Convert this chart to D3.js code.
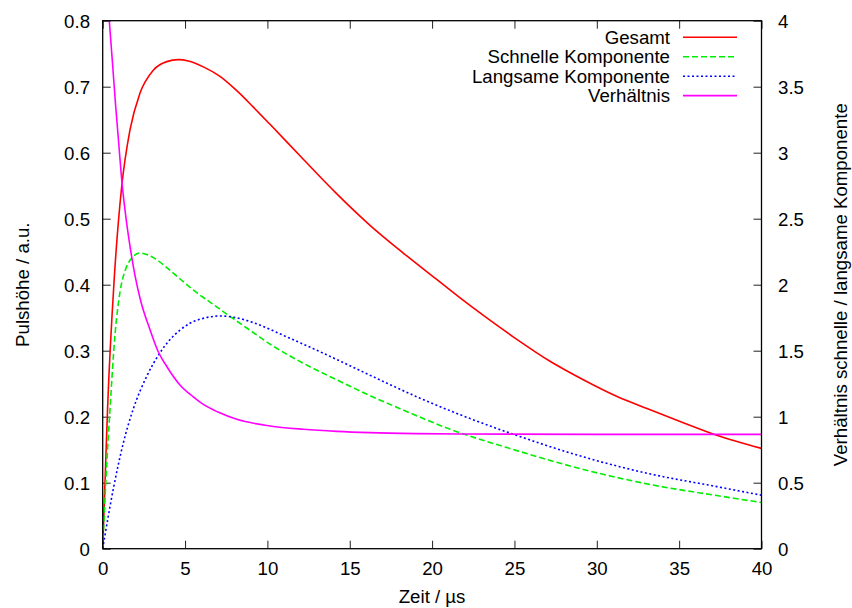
<!DOCTYPE html>
<html>
<head>
<meta charset="utf-8">
<script src="https://cdn.jsdelivr.net/npm/d3@7"></script>
<style>
    body { margin: 0; background: #fff; }
    text { font-family: "Liberation Sans", Arial, sans-serif; font-size: 18.67px; fill: #000; }
</style>
</head>
<body>
<svg id="chart" width="852" height="608"></svg>
<script>
// values: [zeit in µs, wert]
const gesamt = [
    [0, 0], [0.16, 0.115], [0.3, 0.215], [0.69, 0.405], [1.15, 0.548], [1.66, 0.635],
    [2.26, 0.69], [3.07, 0.725], [3.89, 0.738], [4.6, 0.741], [5.2, 0.739], [6.11, 0.730],
    [7.1, 0.716], [8.14, 0.694], [9.15, 0.669], [10.16, 0.643], [12.18, 0.590], [14.2, 0.538],
    [16.23, 0.490], [18.25, 0.448], [20.28, 0.408], [21.7, 0.380], [23.3, 0.350],
    [25.1, 0.318], [27.16, 0.284], [29.18, 0.256], [31.2, 0.231], [33.2, 0.211],
    [35.25, 0.191], [37.28, 0.172], [40, 0.152]
]
const schnell = [
    [0, 0], [0.24, 0.125], [0.44, 0.21], [0.75, 0.325], [1.05, 0.389], [1.4, 0.424],
    [1.66, 0.437], [2.26, 0.448], [3.07, 0.441], [3.89, 0.426], [4.59, 0.411], [5.5, 0.392],
    [6.6, 0.372], [7.73, 0.352], [9, 0.330], [10.16, 0.310], [12.18, 0.281], [14.2, 0.256],
    [16.23, 0.232], [18.25, 0.210], [21.1, 0.181], [25.1, 0.149], [29.2, 0.120],
    [33.2, 0.0975], [37.3, 0.0805], [40, 0.070]
]
const langsam = [
    [0, 0], [0.64, 0.09], [1.25, 0.16], [1.86, 0.212], [2.67, 0.261], [3.48, 0.297],
    [4.09, 0.317], [4.69, 0.331], [5.3, 0.3415], [6.1, 0.349], [7.12, 0.3526], [8.1, 0.350],
    [9.15, 0.3425], [11.17, 0.321], [13.19, 0.2985], [15.2, 0.275], [17.24, 0.251],
    [19.27, 0.228], [21.7, 0.203], [25.1, 0.172], [29.2, 0.139], [33.2, 0.1135],
    [37.3, 0.094], [40, 0.081]
]
// rechte achse
const verhaeltnis = [
    [0.4, 4.0], [0.6, 3.67], [0.79, 3.35], [1.0, 3.03], [1.15, 2.8], [1.4, 2.52],
    [1.66, 2.29], [1.96, 2.07], [2.3, 1.88], [2.87, 1.66], [3.38, 1.49], [3.89, 1.38],
    [4.69, 1.24], [5.5, 1.15], [6.11, 1.093], [7, 1.035], [8.14, 0.98], [10.16, 0.93],
    [12.18, 0.905], [14.2, 0.889], [16.23, 0.879], [19, 0.872], [21.7, 0.869],
    [30, 0.866], [40, 0.866]
]

const xTicks = [0, 5, 10, 15, 20, 25, 30, 35, 40]
const yTicks = [0, 0.1, 0.2, 0.3, 0.4, 0.5, 0.6, 0.7, 0.8]
const y2Ticks = [0, 0.5, 1, 1.5, 2, 2.5, 3, 3.5, 4]

const seriesNames = ['Gesamt', 'Schnelle Komponente', 'Langsame Komponente', 'Verhältnis']

const plotLeft = 102.7, plotRight = 761.5, plotTop = 20.7, plotBottom = 548.7
const tickLen = 8

const svg = d3.select('#chart')

const x = d3.scaleLinear().domain([0, 40]).range([plotLeft, plotRight])
const y = d3.scaleLinear().domain([0, 0.8]).range([plotBottom, plotTop])
const y2 = d3.scaleLinear().domain([0, 4]).range([plotBottom, plotTop])

const series = [
    { name: seriesNames[0], data: gesamt, scale: y, color: '#ff0000', dash: null },
    { name: seriesNames[1], data: schnell, scale: y, color: '#00ee00', dash: '6,3' },
    { name: seriesNames[2], data: langsam, scale: y, color: '#0000ff', dash: '2,2.5' },
    { name: seriesNames[3], data: verhaeltnis, scale: y2, color: '#ff00ff', dash: null }
]

svg.append('clipPath').attr('id', 'plotclip')
    .append('rect')
    .attr('x', plotLeft).attr('y', plotTop)
    .attr('width', plotRight - plotLeft).attr('height', plotBottom - plotTop)

// axes (gnuplot style: ticks inward)
const fmt = d => String(d)

const xBottom = d3.axisBottom(x).tickValues(xTicks).tickSize(-tickLen).tickPadding(tickLen + 9).tickFormat(fmt)
const xTop = d3.axisTop(x).tickValues(xTicks).tickSize(-tickLen).tickFormat('')
const yLeft = d3.axisLeft(y).tickValues(yTicks).tickSize(-tickLen).tickPadding(tickLen + 4.7).tickFormat(fmt)
const yRight = d3.axisRight(y2).tickValues(y2Ticks).tickSize(-tickLen).tickPadding(tickLen + 8.5).tickFormat(fmt)

const styleAxis = g => {
    g.attr('font-size', null).attr('font-family', null)
    g.select('.domain').remove()
    g.selectAll('.tick line').attr('stroke', '#222').attr('stroke-width', 1)
}

svg.append('g').attr('transform', `translate(0,${plotBottom})`).call(xBottom).call(styleAxis)
    .selectAll('.tick text').attr('dy', null).attr('y', 26.3)
svg.append('g').attr('transform', `translate(0,${plotTop})`).call(xTop).call(styleAxis)
svg.append('g').attr('transform', `translate(${plotLeft},0)`).call(yLeft).call(styleAxis)
    .selectAll('.tick text').attr('dy', '0.34em')
svg.append('g').attr('transform', `translate(${plotRight},0)`).call(yRight).call(styleAxis)
    .selectAll('.tick text').attr('dy', '0.34em')

// curves
const plot = svg.append('g').attr('clip-path', 'url(#plotclip)')

series.forEach(s => {
    const line = d3.line()
        .x(d => x(d[0]))
        .y(d => s.scale(d[1]))
        .curve(d3.curveMonotoneX)

    plot.append('path')
        .datum(s.data)
        .attr('d', line)
        .attr('fill', 'none')
        .attr('stroke', s.color)
        .attr('stroke-width', 1.6)
        .attr('stroke-dasharray', s.dash)
})

// frame
svg.append('rect')
    .attr('x', plotLeft).attr('y', plotTop)
    .attr('width', plotRight - plotLeft).attr('height', plotBottom - plotTop)
    .attr('fill', 'none')
    .attr('stroke', '#000')
    .attr('stroke-width', 1.3)

// legend
const legend = svg.append('g')
series.forEach((s, i) => {
    const ly = 37.3 + i * 19.45
    legend.append('text')
        .attr('x', 670)
        .attr('y', ly)
        .attr('dy', '0.35em')
        .attr('text-anchor', 'end')
        .text(s.name)
    legend.append('line')
        .attr('x1', 683).attr('x2', 737)
        .attr('y1', ly).attr('y2', ly)
        .attr('stroke', s.color)
        .attr('stroke-width', 1.6)
        .attr('stroke-dasharray', s.dash)
})

// axis labels
svg.append('text')
    .attr('x', (plotLeft + plotRight) / 2)
    .attr('y', 603)
    .attr('text-anchor', 'middle')
    .text('Zeit / µs')

svg.append('text')
    .attr('transform', `translate(29,${(plotTop + plotBottom) / 2}) rotate(-90)`)
    .attr('text-anchor', 'middle')
    .text('Pulshöhe / a.u.')

svg.append('text')
    .attr('transform', `translate(834,${(plotTop + plotBottom) / 2}) rotate(-90)`)
    .attr('text-anchor', 'middle')
    .attr('dy', '0.72em')
    .text('Verhältnis schnelle / langsame Komponente')
</script>
</body>
</html>
